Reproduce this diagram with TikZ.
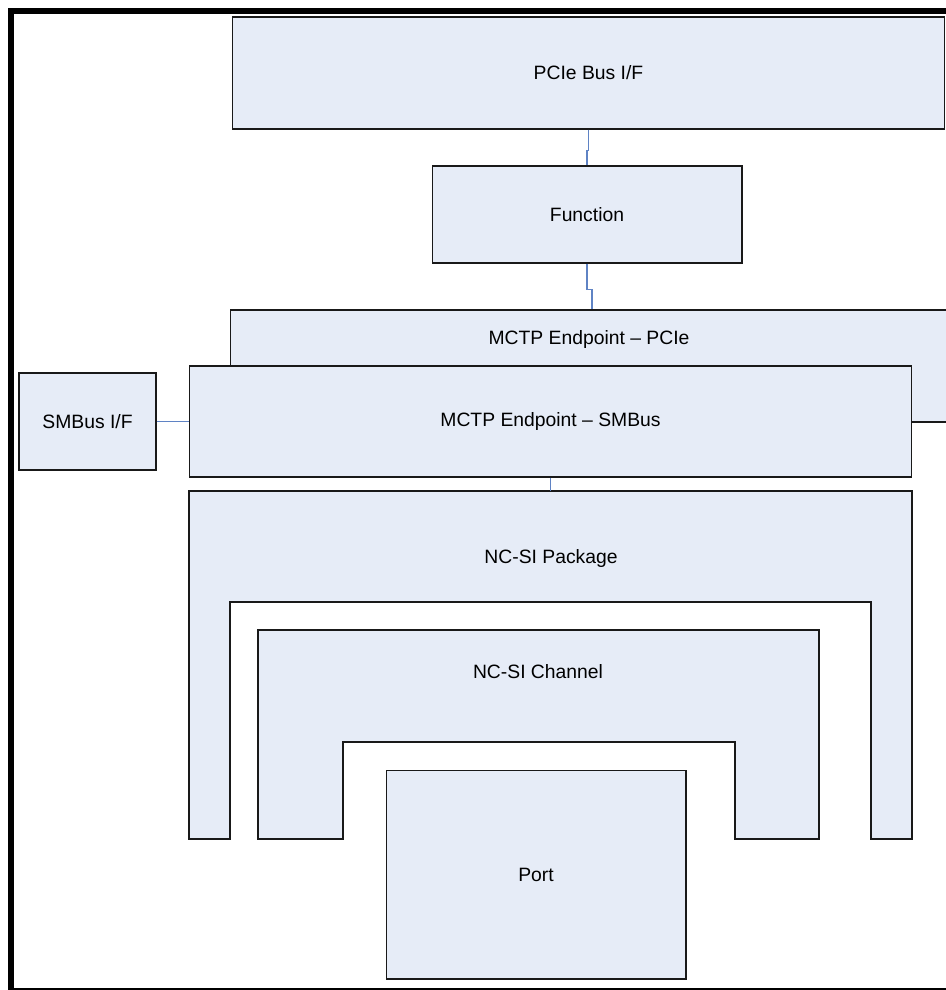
\documentclass[tikz,border=0pt]{standalone}
\usepackage{fontspec}
\setmainfont{Liberation Sans}
\usetikzlibrary{calc}
\definecolor{boxfill}{HTML}{E6ECF7}
\definecolor{linkblue}{HTML}{5F83C4}

\begin{document}
\begin{tikzpicture}[
  x=0.02cm, y=-0.02cm,
  box/.style={draw=black!90, fill=boxfill, line width=0.6pt, inner sep=0pt, font=\fontsize{11}{13}\selectfont},
  tag/.style={font=\fontsize{11}{13}\selectfont},
  link/.style={draw=linkblue, line width=0.6pt},
  frame/.style={draw=black, line width=3.4pt}
]
\useasboundingbox (0,0) rectangle (946,990);
\clip (0,0) rectangle (946,990);

% Outer frame (right side runs off the page)
\draw[frame] (11,11) rectangle (952,991);

% PCIe side
\node[box, minimum width=14.26cm, minimum height=2.24cm] (pcie) at (588.5,73) {PCIe Bus I/F};
\node[box, minimum width=6.2cm, minimum height=1.94cm] (func) at (587,214.5) {Function};

% MCTP endpoints
\node[box, minimum width=14.36cm, minimum height=2.24cm] (mctppcie) at (589,366) {};
\node[tag] (mctppcietxt) at (589,339) {MCTP Endpoint – PCIe};
\node[box, minimum width=14.46cm, minimum height=2.22cm] (mctpsm) at (550.5,421.5) {MCTP Endpoint – SMBus};
\node[box, minimum width=2.74cm, minimum height=1.94cm] (smbus) at (87.5,421.5) {SMBus I/F};

% NC-SI package
\draw[box] (189,839) -- (189,491) -- (912,491) -- (912,839) -- (871,839)
  -- (871,602) -- (230,602) -- (230,839) -- cycle;
\coordinate (pkgtop) at (550.5,491);
\node[tag] (pkg) at (551,558) {NC-SI Package};

% NC-SI channel
\draw[box] (258,839) -- (258,630) -- (819,630) -- (819,839) -- (735,839)
  -- (735,742) -- (343,742) -- (343,839) -- cycle;
\node[tag] (chan) at (538,672) {NC-SI Channel};

% Port
\node[box, minimum width=6cm, minimum height=4.18cm] (port) at (536,874.5) {Port};

% Links
\draw[link] (pcie.south) -- ++(0,21) -| (func.north);
\draw[link] (func.south) -- ++(0,26) -| ([xshift=0.06cm]mctppcie.north);
\draw[link] (smbus.east) -- (mctpsm.west);
\draw[link] (mctpsm.south) -- (pkgtop);

\end{tikzpicture}
\end{document}
